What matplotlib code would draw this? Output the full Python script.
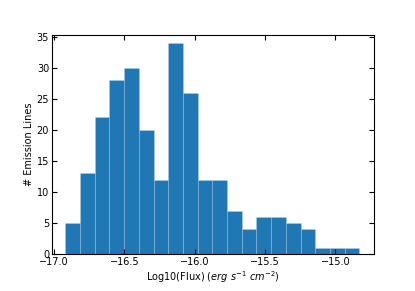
import numpy as np
import matplotlib
matplotlib.use('Agg')
import matplotlib.pyplot as plt

# bin edges (20 bins)
bin_start = -16.92
bin_stop = -14.83
counts = [5, 13, 22, 28, 30, 20, 12, 34, 26, 12,
          12, 7, 4, 6, 6, 5, 4, 1, 1, 1]

edges = np.linspace(bin_start, bin_stop, len(counts) + 1)
centers = (edges[:-1] + edges[1:]) / 2

fig = plt.figure(figsize=(4.15, 2.91), dpi=100)
ax = fig.add_axes([0.125, 0.127, 0.775, 0.753])

ax.hist(centers, bins=edges, weights=counts, color='#1f77b4',
        edgecolor=(1, 1, 1, 0.2), linewidth=0.5)

ax.set_xlim(-17.015, -14.73)
ax.set_ylim(0, 35.3)
ax.set_xticks([-17.0, -16.5, -16.0, -15.5, -15.0])
ax.set_yticks([0, 5, 10, 15, 20, 25, 30, 35])
ax.tick_params(direction='in', top=True, right=True, labelsize=7,
               length=3.5, width=0.8, pad=2)
ax.set_xlabel(r'Log10(Flux) ($erg\ s^{-1}\ cm^{-2}$)', fontsize=7, labelpad=2)
ax.set_ylabel('# Emission Lines', fontsize=7, labelpad=2)
for s in ax.spines.values():
    s.set_linewidth(0.8)

plt.savefig('out.png', dpi=100)
